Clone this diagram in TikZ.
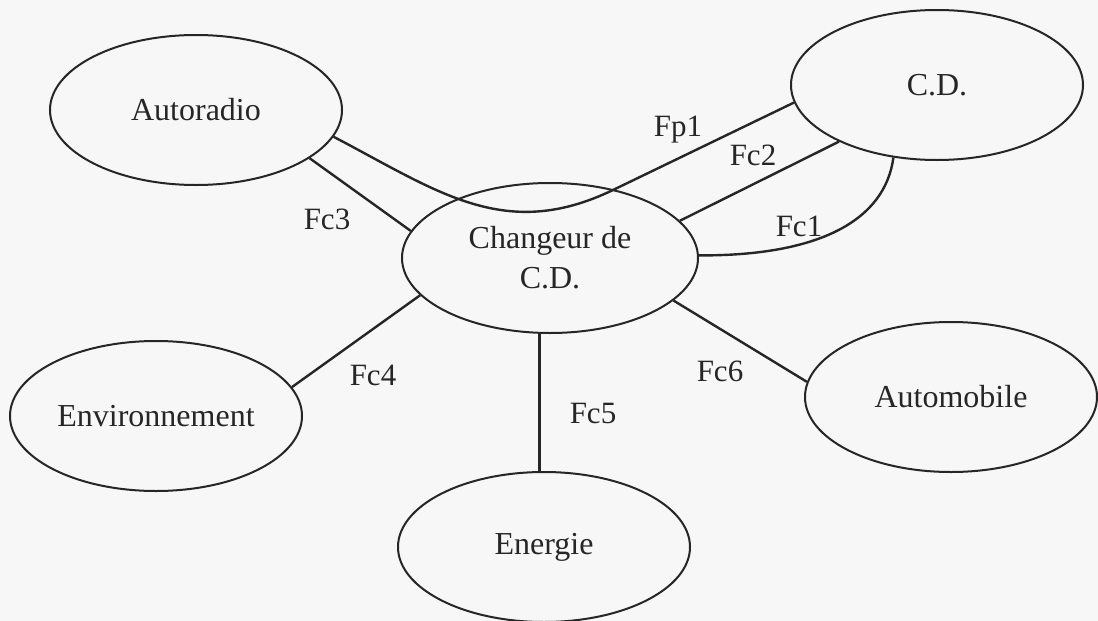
\documentclass[tikz,border=0pt]{standalone}
\usepackage{fontspec}
\setmainfont{Liberation Serif}
\usetikzlibrary{shapes.geometric}
\tikzset{
  entity/.style={draw=black!85, ellipse, minimum width=292pt, minimum height=150pt, inner sep=0pt, line width=2pt, text=black!85, font=\fontsize{32}{40}\selectfont, align=center},
  fct/.style={text=black!85, font=\fontsize{31}{36}\selectfont},
  link/.style={draw=black!85, line width=2.4pt}
}
\begin{document}
\begin{tikzpicture}[x=1pt,y=-1pt]
\path[use as bounding box, fill=black!3] (0,0) rectangle (1098,621);
\node[entity] (autoradio) at (196,110) {Autoradio};
\node[entity] (cd) at (937,85) {C.D.};
\node[entity, minimum width=296pt] (changeur) at (550,258) {Changeur de\\C.D.};
\node[entity] (environnement) at (156,416) {Environnement};
\node[entity] (automobile) at (951,397) {Automobile};
\node[entity] (energie) at (544,547) {Energie};
% fonctions
\coordinate (fp1bend) at (613,190);
\draw[link] (autoradio.349) .. controls (439,192) and (505,242) .. (fp1bend) -- (cd.187);
\draw[link] (changeur.16) -- (cd.210);
\draw[link] (changeur.1) .. controls (820,256) and (885,220) .. (cd.239);
\draw[link] (autoradio.337) -- (changeur.169);
\draw[link] (environnement.12) -- (changeur.196);
\draw[link] (changeur.262) -- (changeur.262 |- energie.north);
\draw[link] (changeur.341) -- (automobile.174);
\node[fct] (fp1) at (678,130) {Fp1};
\node[fct] (fc2) at (753,155) {Fc2};
\node[fct] (fc1) at (799,226) {Fc1};
\node[fct] (fc3) at (327,219) {Fc3};
\node[fct] (fc4) at (373,375) {Fc4};
\node[fct] (fc5) at (593,413) {Fc5};
\node[fct] (fc6) at (720,371) {Fc6};
\end{tikzpicture}
\end{document}
